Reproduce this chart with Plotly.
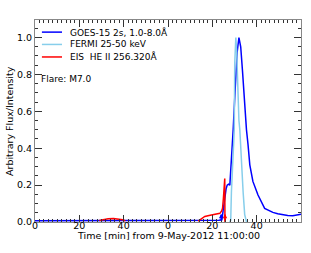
import plotly.graph_objects as go

# GOES-15 2s, 1.0-8.0 A (normalised)
goes_t = [0, 10, 20, 30, 40, 50, 60, 70, 78, 83, 84.3, 84.8, 85.2, 85.6, 86.2, 86.7, 87.3, 87.9,
          88.5, 89.4, 90.3, 91.2, 92.0, 92.8, 93.6, 94.5, 95.4, 96.1, 96.9, 98.3, 100.6,
          103.6, 107.3, 109.5, 111.8, 114.0, 116.3, 118.0, 120.0]
goes_v = [0.007, 0.007, 0.007, 0.008, 0.009, 0.008, 0.007, 0.007, 0.008, 0.009, 0.012, 0.06, 0.11, 0.146,
          0.18, 0.20, 0.205, 0.20, 0.30, 0.50, 0.72, 0.92, 1.0, 0.95, 0.82, 0.65, 0.50, 0.42,
          0.31, 0.22, 0.146, 0.074, 0.052, 0.045, 0.038, 0.035, 0.034, 0.038, 0.042]

# FERMI 25-50 keV (normalised)
fermi_t = [87.8, 88.3, 88.6, 89.4, 89.9, 90.1, 90.6, 91.0, 91.5, 92.0, 92.4, 93.0, 93.9, 94.6, 95.4]
fermi_v = [0.0, 0.01, 0.16, 0.34, 0.50, 0.86, 1.0, 0.92, 0.72, 0.55, 0.50, 0.33, 0.16, 0.04, 0.0]

# EIS He II 256.320 A (normalised); None separates rasters
eis_t = [29.0, 31.0, 33.0, 35.4, 37.5, 39.5, 40.7, None,
         73.6, 75.0, 76.6, 78.5, 80.4, 82.0, 83.4, 84.2, 84.6, 85.0, 85.2, 85.6, 85.7]
eis_v = [0.008, 0.014, 0.017, 0.019, 0.017, 0.012, 0.007, None,
         0.005, 0.015, 0.030, 0.035, 0.040, 0.043, 0.047, 0.060, 0.074, 0.13, 0.16, 0.236, 0.0]

# arrow markers (time, tip height) and colours
arrow_t = [84.0, 85.7]
arrow_v = [0.045, 0.045]
arrow_c = ["#0000ff", "#ff0000"]

series_names = ["GOES-15 2s, 1.0-8.0Å", "FERMI 25-50 keV", "EIS  HE II 256.320Å"]
series_colors = ["#0000ff", "#87ceeb", "#ff0000"]

xtick_vals = [0, 20, 40, 60, 80, 100]
xtick_text = ["0", "20", "40", "0", "20", "40"]
ytick_vals = [0.0, 0.2, 0.4, 0.6, 0.8, 1.0]
ytick_text = ["0.0", "0.2", "0.4", "0.6", "0.8", "1.0"]

FONT = "DejaVu Sans"

fig = go.Figure()
for t, v, nm, c in zip([goes_t, fermi_t, eis_t], [goes_v, fermi_v, eis_v], series_names, series_colors):
    fig.add_trace(go.Scatter(x=t, y=v, mode="lines", name=nm, showlegend=False,
                             line=dict(color=c, width=1.5), connectgaps=False))

for t, v, c in zip(arrow_t, arrow_v, arrow_c):
    fig.add_annotation(x=t, y=v, ax=t, ay=0.0, xref="x", yref="y", axref="x", ayref="y",
                       text="", showarrow=True, arrowhead=2, arrowsize=0.6, arrowwidth=1.5,
                       arrowcolor=c)

# manual legend (layout elements in paper coordinates)
leg_y = [0.940, 0.879, 0.817]
for y, nm, c in zip(leg_y, series_names, series_colors):
    fig.add_shape(type="line", xref="paper", yref="paper", x0=0.026, x1=0.1015, y0=y, y1=y,
                  line=dict(color=c, width=1.5))
    fig.add_annotation(x=0.124, y=y, xref="paper", yref="paper", text=nm, showarrow=False,
                       xanchor="left", yanchor="middle", font=dict(family=FONT, size=9, color="#000"))

fig.add_annotation(x=0.014, y=0.775, xref="paper", yref="y", text="Flare: M7.0",
                   showarrow=False, xanchor="left", yanchor="middle",
                   font=dict(family=FONT, size=9, color="#000"))

# axis titles
fig.add_annotation(x=0.5, y=-0.069, xref="paper", yref="paper", text="Time [min] from 9-May-2012 11:00:00",
                   showarrow=False, xanchor="center", yanchor="middle",
                   font=dict(family=FONT, size=9.5, color="#000"))
fig.add_annotation(x=-0.0977, y=0.5, xref="paper", yref="paper", text="Arbitrary Flux/Intensity",
                   showarrow=False, xanchor="center", yanchor="middle", textangle=-90,
                   font=dict(family=FONT, size=9.5, color="#000"))

axis_common = dict(showgrid=False, zeroline=False, showline=True, linecolor="#888", linewidth=1,
                   mirror="allticks", ticks="inside", tickcolor="#333", ticklen=7, automargin=False,
                   tickfont=dict(family=FONT, size=9.5, color="#000"))

fig.update_xaxes(range=[0, 120], tickvals=xtick_vals, ticktext=xtick_text, ticklabelstandoff=-5,
                 minor=dict(dtick=2, ticks="inside", ticklen=3, tickcolor="#333"),
                 **axis_common)
fig.update_yaxes(range=[0, 1.095], tickvals=ytick_vals, ticktext=ytick_text,
                 minor=dict(dtick=0.05, ticks="inside", ticklen=3, tickcolor="#333"),
                 **axis_common)

fig.update_layout(
    width=311, height=253,
    margin=dict(l=35, r=10, t=20, b=31),
    paper_bgcolor="white", plot_bgcolor="white",
    font=dict(family=FONT, size=9.5, color="#000"),
    showlegend=False,
)

fig.write_html("out.html", config={"displayModeBar": False},
               post_script="document.body.style.margin='0';document.body.style.overflow='hidden';")
